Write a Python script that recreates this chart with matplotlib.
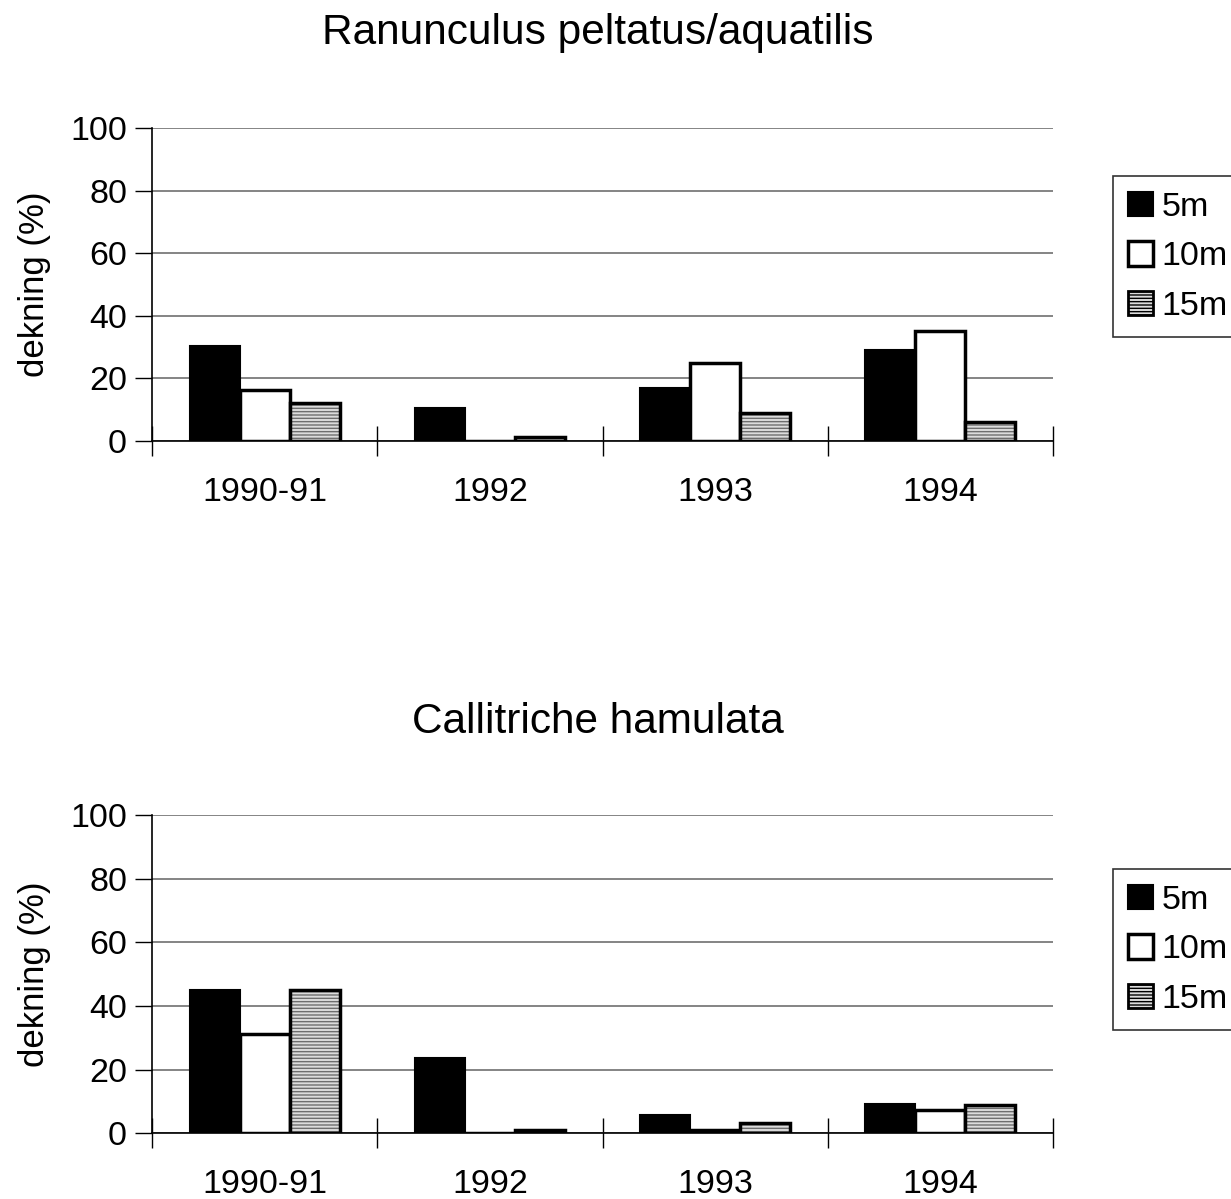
import numpy as np
import matplotlib
matplotlib.use("Agg")
import matplotlib.pyplot as plt
from matplotlib.patches import Patch

plt.rcParams["font.family"] = ["Liberation Sans", "DejaVu Sans"]

# ── data ────────────────────────────────────────────────────────────────
years  = ["1990-91", "1992", "1993", "1994"]
depths = ["5m", "10m", "15m"]

ranunculus = {
    "5m":  [30.3, 10.5, 16.8, 29.0],
    "10m": [16.2,  0.0, 24.8, 35.0],
    "15m": [12.0,  1.2,  8.8,  6.2],
}
callitriche = {
    "5m":  [45.0, 23.5, 5.7, 9.1],
    "10m": [31.3,  0.0, 1.0, 7.2],
    "15m": [45.0,  1.0, 3.2, 8.8],
}

titles = ["Ranunculus peltatus/aquatilis", "Callitriche hamulata"]
ylabel = "dekning (%)"
yticks = [0, 20, 40, 60, 80, 100]

FS = 24.5
fig = plt.figure(figsize=(12.31, 11.99), dpi=100)

def draw(ax, data):
    x = np.arange(len(years)) + 0.5
    w = 0.222
    ax.bar(x - w, data["5m"], w, color="black", edgecolor="black", lw=1.5, zorder=3)
    ax.bar(x, data["10m"], w, color="white", edgecolor="black", lw=2.5, zorder=3)
    ax.bar(x + w, data["15m"], w, color="#dcdcdc", edgecolor="#6e6e6e",
           hatch="-----", lw=0, zorder=3)
    ax.bar(x + w, data["15m"], w, fill=False, edgecolor="black", lw=2.5, zorder=4)

    ax.set_xlim(0, len(years))
    ax.set_ylim(0, 100)
    ax.set_yticks(yticks)
    ax.yaxis.grid(True, color="#707070", lw=1.2, zorder=0)
    ax.set_axisbelow(True)
    ax.set_xticks(np.arange(len(years) + 1))
    ax.set_xticklabels([])
    ax.set_xticks(x, minor=True)
    ax.set_xticklabels(years, minor=True, fontsize=FS)
    ax.tick_params(axis="x", which="major", direction="inout", length=22, width=1)
    ax.tick_params(axis="x", which="minor", length=0, pad=26)
    ax.tick_params(axis="y", direction="out", length=12, width=1, labelsize=FS, pad=6)
    for s in ["top", "right"]:
        ax.spines[s].set_visible(False)
    for s in ["left", "bottom"]:
        ax.spines[s].set_linewidth(1.2)
    ax.set_ylabel(ylabel, fontsize=FS + 0.5, labelpad=14)

ax1 = fig.add_axes([0.1235, 0.6322, 0.732, 0.261])
draw(ax1, ranunculus)
ax2 = fig.add_axes([0.1235, 0.055, 0.732, 0.265])
draw(ax2, callitriche)

fig.text(0.4854, 0.9725, titles[0], ha="center", va="center", fontsize=30.5)
fig.text(0.4854, 0.398, titles[1], ha="center", va="center", fontsize=30.5)

handles = [
    Patch(facecolor="black", edgecolor="black", lw=1.5),
    Patch(facecolor="white", edgecolor="black", lw=2.5),
    Patch(facecolor="#dcdcdc", edgecolor="black", hatch="-----", lw=2),
]
for anchor in [(0.904, 0.853), (0.904, 0.275)]:
    leg = fig.legend(handles, depths, loc="upper left", bbox_to_anchor=anchor,
                     fontsize=FS, frameon=True, fancybox=False, edgecolor="black",
                     handlelength=0.73, handleheight=0.73, handletextpad=0.25,
                     borderpad=0.45, labelspacing=0.54, borderaxespad=0)
    leg.get_frame().set_linewidth(1.2)

plt.savefig("out.png", dpi=100)
